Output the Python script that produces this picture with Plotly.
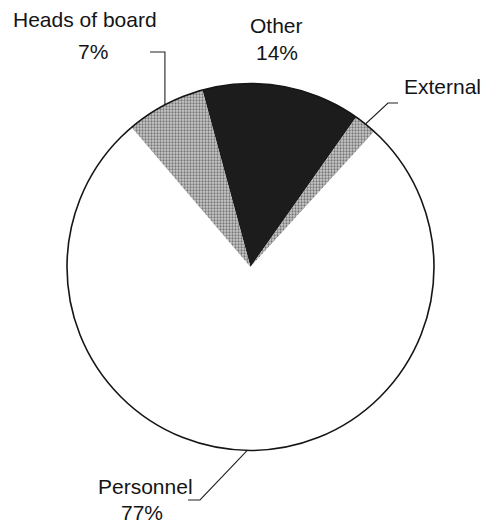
import math
import plotly.graph_objects as go

# ---- data ----
labels = ["Other", "External", "Personnel", "Heads of board"]
values = [14, 2, 77, 7]
show_pct = [True, False, True, True]

# ---- style / layout ----
W, H = 483, 525
CX, CY, R = 250.5, 267.0, 183.5      # pie centre & radius in px
ROT = -15.2                           # first slice start angle (deg, clockwise from 12 o'clock)
FONT = dict(family="Liberation Sans, Arial, sans-serif", size=21, color="#141414")

fill = ["#1c1c1c", "#b0b0b0", "#ffffff", "#b0b0b0"]
pat_shape = ["", ".", "", "."]
pat_fg = ["#1c1c1c", "#777777", "#ffffff", "#777777"]
pat_bg = ["#1c1c1c", "#cbcbcb", "#ffffff", "#cbcbcb"]

# text positions (px) for name / pct lines
name_pos = {"Other": (276, 25), "External": (442, 86), "Personnel": (145, 486), "Heads of board": (85, 20)}
pct_pos = {"Other": (277, 52), "Personnel": (142, 512), "Heads of board": (93, 51)}
# leader-line elbow and end points (px); None = no leader
leader = {
    "Other": None,
    "External": ((388, 103), (398, 103)),
    "Personnel": ((200, 500), (188, 500)),
    "Heads of board": ("vert", 52, (150, 52)),
}


def px2paper(x, y):
    return x / W, 1 - y / H


dom_x = [(CX - R) / W, (CX + R) / W]
dom_y = [(H - CY - R) / H, (H - CY + R) / H]

fig = go.Figure()
fig.add_trace(go.Pie(
    labels=labels, values=values, sort=False, direction="clockwise", rotation=ROT,
    marker=dict(colors=fill, line=dict(width=0),
                pattern=dict(shape=pat_shape, fgcolor=pat_fg, bgcolor=pat_bg, size=3, solidity=0.45)),
    textinfo="none", hoverinfo="label+percent", domain=dict(x=dom_x, y=dom_y), showlegend=False,
))
# outline circle
fig.add_trace(go.Pie(
    labels=["outline"], values=[1], sort=False,
    marker=dict(colors=["rgba(0,0,0,0)"], line=dict(color="#151515", width=1.6)),
    textinfo="none", hoverinfo="skip", domain=dict(x=dom_x, y=dom_y), showlegend=False,
))

annotations = []
shapes = []
total = sum(values)
cum = 0.0
for lab, v, sp in zip(labels, values, show_pct):
    mid = ROT + (cum + v / 2) / total * 360
    cum += v
    a = math.radians(mid)
    ax, ay = CX + R * math.sin(a), CY - R * math.cos(a)
    nx, ny = name_pos[lab]
    x, y = px2paper(nx, ny)
    annotations.append(dict(x=x, y=y, xref="paper", yref="paper", text=lab, showarrow=False,
                            font=FONT, xanchor="center", yanchor="middle"))
    if sp:
        qx, qy = pct_pos[lab]
        x, y = px2paper(qx, qy)
        annotations.append(dict(x=x, y=y, xref="paper", yref="paper", text=f"{v / total * 100:.0f}%",
                                showarrow=False, font=FONT, xanchor="center", yanchor="middle"))
    ld = leader[lab]
    if ld is None:
        continue
    if ld[0] == "vert":
        elbow = (ax, ld[1])
        end = ld[2]
    else:
        elbow, end = ld
    pts = [px2paper(ax, ay), px2paper(*elbow), px2paper(*end)]
    path = "M {} {} L {} {} L {} {}".format(*[c for p in pts for c in p])
    shapes.append(dict(type="path", xref="paper", yref="paper", path=path,
                       line=dict(color="#222222", width=1.1)))

fig.update_layout(
    width=W, height=H, margin=dict(l=0, r=0, t=0, b=0),
    paper_bgcolor="white", plot_bgcolor="white",
    annotations=annotations, shapes=shapes, showlegend=False,
)
fig.write_html("out.html")
